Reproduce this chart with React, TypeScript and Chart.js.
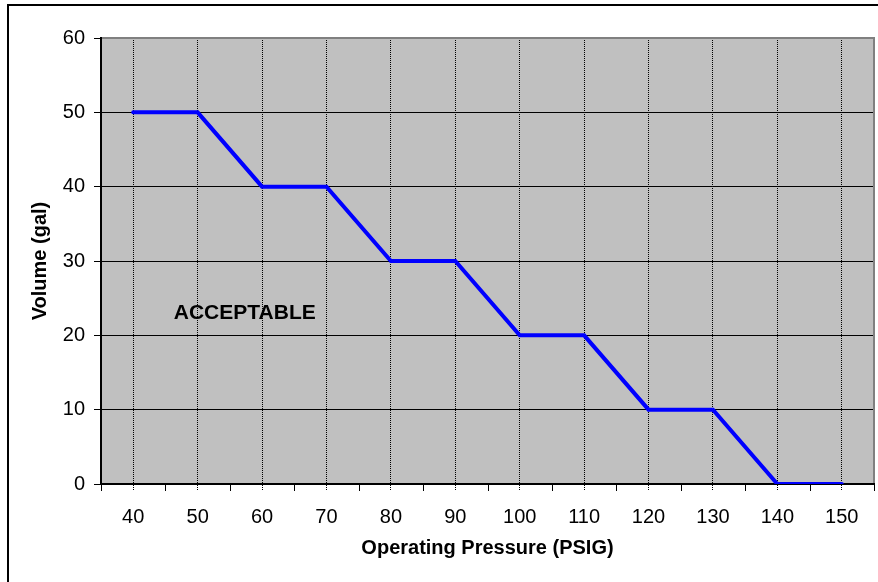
import { useEffect, useRef } from "react";
import { Chart, registerables } from "chart.js";

Chart.register(...registerables);

// ---- Data ----
const categories = ["40", "50", "60", "70", "80", "90", "100", "110", "120", "130", "140", "150"];
const volumes = [50, 50, 40, 40, 30, 30, 20, 20, 10, 10, 0, 0];
const Y_MIN = 0;
const Y_MAX = 60;
const Y_STEP = 10;
const xTitle = "Operating Pressure (PSIG)";
const yTitle = "Volume (gal)";
const annotationText = "ACCEPTABLE";
const annotationAt = { index: 0.63, value: 23 };

const FONT = '"Liberation Sans", Arial, Helvetica, sans-serif';

const decorPlugin = {
  id: "decor",
  beforeDraw(chart: any) {
    const { ctx, chartArea: a } = chart;
    ctx.save();
    ctx.fillStyle = "#C0C0C0";
    ctx.fillRect(a.left, a.top, a.right - a.left, a.bottom - a.top);
    ctx.restore();
  },
  afterDatasetsDraw(chart: any) {
    const { ctx, scales } = chart;
    const x = scales.x.getPixelForValue(annotationAt.index);
    const y = scales.y.getPixelForValue(annotationAt.value);
    ctx.save();
    ctx.font = `bold 21px ${FONT}`;
    ctx.fillStyle = "#000";
    ctx.textAlign = "left";
    ctx.textBaseline = "middle";
    ctx.fillText(annotationText, x, y);
    ctx.restore();
  },
  afterDraw(chart: any) {
    const { ctx, chartArea: a, scales } = chart;
    const xs = scales.x;
    ctx.save();
    ctx.strokeStyle = "#000";
    ctx.lineWidth = 1;
    ctx.beginPath();
    for (let i = 0; i <= categories.length; i++) {
      const px = Math.round(xs.getPixelForValue(i - 0.5)) + 0.5;
      ctx.moveTo(px, a.bottom);
      ctx.lineTo(px, a.bottom + 7);
    }
    ctx.stroke();
    ctx.strokeStyle = "#808080";
    ctx.lineWidth = 2;
    ctx.beginPath();
    ctx.moveTo(a.left + 1, a.top);
    ctx.lineTo(a.right, a.top);
    ctx.lineTo(a.right, a.bottom - 1);
    ctx.stroke();
    ctx.restore();
  },
};

export default function App() {
  const ref = useRef<HTMLCanvasElement | null>(null);

  useEffect(() => {
    if (!ref.current) return;
    const chart = new Chart(ref.current, {
      type: "line",
      data: {
        labels: categories,
        datasets: [
          {
            data: volumes,
            borderColor: "#0000FF",
            borderWidth: 4,
            borderCapStyle: "round",
            pointRadius: 0,
            tension: 0,
            fill: false,
          },
        ],
      },
      options: {
        animation: false,
        responsive: false,
        events: [],
        layout: { padding: { top: 38, right: 4, left: 0, bottom: 0 } },
        plugins: {
          legend: { display: false },
          title: { display: false },
          tooltip: { enabled: false },
        },
        scales: {
          x: {
            type: "category",
            offset: true,
            afterFit(scale: any) {
              scale.height = 98;
            },
            grid: {
              offset: false,
              color: "#000",
              lineWidth: 1,
              drawTicks: true,
              tickLength: 7,
              tickColor: "#000",
              tickBorderDash: [1, 1],
            },
            border: { display: true, color: "#000", width: 2, dash: [1, 1] },
            ticks: {
              color: "#000",
              font: { family: FONT, size: 20 },
              padding: 14,
              maxRotation: 0,
              autoSkip: false,
            },
            title: {
              display: true,
              text: xTitle,
              color: "#000",
              font: { family: FONT, size: 20, weight: "bold" },
              padding: { top: 0, bottom: 22 },
            },
          },
          y: {
            min: Y_MIN,
            max: Y_MAX,
            afterFit(scale: any) {
              scale.width = 101;
            },
            grid: {
              color: (c: any) => (c.tick && c.tick.value === Y_MAX ? "#808080" : "#000"),
              lineWidth: 1,
              tickLength: 7,
              tickColor: "#000",
            },
            border: { display: true, color: "#000", width: 2 },
            ticks: {
              stepSize: Y_STEP,
              color: "#000",
              font: { family: FONT, size: 20 },
              padding: 9,
            },
            title: {
              display: true,
              text: yTitle,
              color: "#000",
              font: { family: FONT, size: 20, weight: "bold" },
              padding: { top: 28, bottom: 0 },
            },
          },
        },
      },
      plugins: [decorPlugin],
    } as any);
    return () => chart.destroy();
  }, []);

  return (
    <div
      style={{
        position: "absolute",
        left: 0,
        top: 0,
        width: 878,
        height: 582,
        overflow: "hidden",
        background: "#fff",
      }}
    >
      <div
        style={{
          position: "absolute",
          left: 7,
          top: 4,
          width: 1000,
          height: 1000,
          border: "2px solid #000",
        }}
      />
      <canvas
        ref={ref}
        width={878}
        height={582}
        style={{ position: "absolute", left: 0, top: 0, display: "block" }}
      />
    </div>
  );
}
